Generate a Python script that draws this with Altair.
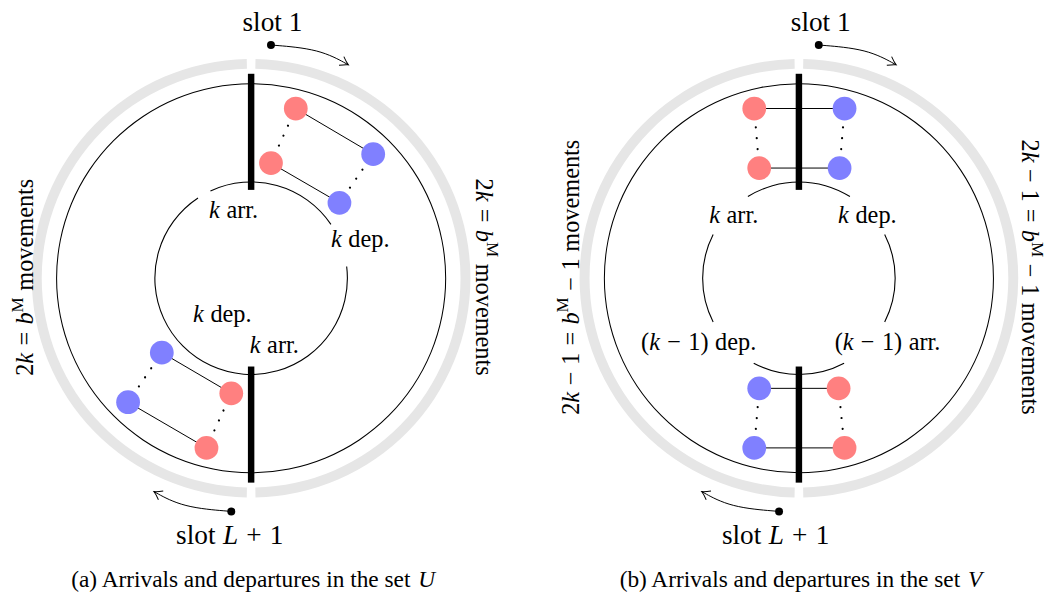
import math
import altair as alt
import pandas as pd

# ---------------- diagram data ----------------
PANEL_CX = [253, 805]          # centre x of panel (a) and (b)
PANEL_CY = 278                 # common centre y
GREY_RING = (211, 221)         # inner / outer radius of grey ring
GREY_HALF_GAP = 0.02           # rad
TRACK_R = 196                  # black circle radius
INNER_R = 97                   # inner circle radius
BAR_R = (89, 206)              # radial extent of the thick black bars

# inner circle pieces that are drawn (degrees clockwise from 12 o'clock)
INNER_ARCS = {
    0: [(335, 416), (83, 326.5)],
    1: [(328, 392), (63, 117), (152, 208), (243, 297)],
}

# vehicles (nodes)
NODE_ID = ["a1", "a2", "a3", "a4", "a5", "a6", "a7", "a8",
           "b1", "b2", "b3", "b4", "b5", "b6", "b7", "b8"]
NODE_X = [298, 273, 376, 342, 163, 129, 233, 208,
          760, 765, 851, 846, 765, 760, 845, 851]
NODE_Y = [107, 162, 153, 202, 353, 403, 394, 449,
          107, 167, 107, 167, 389, 449, 389, 449]
NODE_KIND = ["arr", "arr", "dep", "dep", "dep", "dep", "arr", "arr",
             "arr", "arr", "dep", "dep", "dep", "dep", "arr", "arr"]

SOLID_LINKS = [("a1", "a3"), ("a2", "a4"), ("a5", "a7"), ("a6", "a8"),
               ("b1", "b3"), ("b2", "b4"), ("b5", "b7"), ("b6", "b8")]
DOTTED_LINKS = [("a1", "a2"), ("a3", "a4"), ("a5", "a6"), ("a7", "a8"),
                ("b1", "b2"), ("b3", "b4"), ("b5", "b6"), ("b7", "b8")]

# curved arrows (start, control, tip), left panel; right panel shifted by panel offset
ARROW_TOP_X = [273, 322, 351]
ARROW_TOP_Y = [43, 47, 63]
ARROW_BOT_X = [233, 184, 155]
ARROW_BOT_Y = [513, 509, 493]
ARROW_HEAD_ANGLE = [29, 209]

# ---------------- text ----------------
ROMAN_W = {' ': 250, '(': 333, ')': 333, '.': 250, '1': 500, '2': 500,
           '=': 564, '+': 564, '\u2212': 564, 'a': 444, 'b': 500, 'c': 444,
           'd': 500, 'e': 444, 'h': 500, 'i': 278, 'l': 278, 'm': 778,
           'n': 500, 'o': 500, 'p': 500, 'r': 333, 's': 389, 't': 278,
           'u': 500, 'v': 500, 'A': 722, 'L': 611, 'M': 889, 'U': 722, 'V': 722}
ITALIC_W = {'k': 444, 'b': 500, 'L': 556, 'U': 722, 'V': 611}

MINUS = "\u2212"
WS = (0.27, "G")   # word space
K_ARR = [("k", "I"), WS, ("arr.", "R")]
K_DEP = [("k", "I"), WS, ("dep.", "R")]
K1_DEP = [("(", "R"), ("k", "I"), (0.3, "G"), (MINUS, "R"), (0.3, "G"), ("1)", "R"), WS, ("dep.", "R")]
K1_ARR = [("(", "R"), ("k", "I"), (0.3, "G"), (MINUS, "R"), (0.3, "G"), ("1)", "R"), WS, ("arr.", "R")]
MOVES_A = [("2", "R"), ("k", "I"), (0.3, "G"), ("=", "R"), (0.3, "G"), ("b", "I"),
           ("M", "S"), WS, ("movements", "R")]
MOVES_B = [("2", "R"), ("k", "I"), (0.27, "G"), (MINUS, "R"), (0.27, "G"), ("1", "R"),
           (0.3, "G"), ("=", "R"), (0.3, "G"), ("b", "I"), ("M", "S"), (0.27, "G"),
           (MINUS, "R"), (0.27, "G"), ("1", "R"), WS, ("movements", "R")]
SLOT_1 = [("slot 1", "R")]
SLOT_L = [("slot", "R"), WS, ("L", "I"), (0.3, "G"), ("+", "R"), (0.3, "G"), ("1", "R")]
CAPTION_A = [("(a) Arrivals and departures in the set", "R"), WS, ("U", "I")]
CAPTION_B = [("(b) Arrivals and departures in the set", "R"), WS, ("V", "I")]

# (parts, centre along text, baseline position, font size, angle)
LABELS = [
    (SLOT_1, 274.5, 29, 27.5, 0), (SLOT_L, 231.5, 546, 27.5, 0),
    (SLOT_1, 827, 29, 27.5, 0), (SLOT_L, 781.5, 546, 27.5, 0),
    (K_ARR, 236, 217, 24.5, 0), (K_DEP, 363, 247, 24.5, 0),
    (K_DEP, 224, 322, 24.5, 0), (K_ARR, 277, 353, 24.5, 0),
    (K_ARR, 740, 222, 24.5, 0), (K_DEP, 874, 222, 24.5, 0),
    (K1_DEP, 704, 350, 24.5, 0), (K1_ARR, 895, 350, 24.5, 0),
    (MOVES_A, 277, 33, 24.5, 270), (MOVES_A, 277, 480, 24.5, 90),
    (MOVES_B, 277, 583, 24.5, 270), (MOVES_B, 277, 1030, 24.5, 90),
    (CAPTION_A, 255, 589, 23.5, 0), (CAPTION_B, 807, 589, 23.5, 0),
]


def part_width(text, style):
    if style == "G":
        return text
    if style == "I":
        return sum(ITALIC_W.get(c, 500) for c in text) / 1000
    if style == "S":
        return 0.7 * sum(ROMAN_W.get(c, 500) for c in text) / 1000
    return sum(ROMAN_W.get(c, 500) for c in text) / 1000


def layout(parts, centre, base, size, angle):
    if angle == 0:
        adv, up = (1, 0), (0, -1)
    elif angle == 270:
        adv, up = (0, -1), (-1, 0)
    else:
        adv, up = (0, 1), (1, 0)
    total = sum(part_width(t, s) for t, s in parts) * size
    if angle == 0:
        ox, oy = centre - total / 2, base
    elif angle == 270:
        ox, oy = base, centre + total / 2
    else:
        ox, oy = base, centre - total / 2
    rows = []
    pos = 0.0
    for t, s in parts:
        w = part_width(t, s) * size
        if s != "G":
            rise = 0.42 * size if s == "S" else 0.0
            fs = size * 0.7 if s == "S" else size
            rows.append(dict(text=t, style="italic" if s == "I" else "normal",
                             x=ox + adv[0] * pos + up[0] * rise,
                             y=oy + adv[1] * pos + up[1] * rise,
                             fs=fs, angle=angle))
        pos += w
    return rows


text_rows = []
for lab in LABELS:
    text_rows += layout(*lab)
text_df = pd.DataFrame(text_rows)

# ---------------- tables ----------------
arc_rows = []
for p, cx in enumerate(PANEL_CX):
    g = GREY_HALF_GAP
    arc_rows.append(dict(x=cx, y=PANEL_CY, t1=g, t2=math.pi - g,
                         r1=GREY_RING[1], r2=GREY_RING[0], col="#e6e6e6"))
    arc_rows.append(dict(x=cx, y=PANEL_CY, t1=math.pi + g, t2=2 * math.pi - g,
                         r1=GREY_RING[1], r2=GREY_RING[0], col="#e6e6e6"))
    arc_rows.append(dict(x=cx, y=PANEL_CY, t1=0, t2=2 * math.pi,
                         r1=TRACK_R + 0.55, r2=TRACK_R - 0.55, col="#000000"))
    for a1, a2 in INNER_ARCS[p]:
        arc_rows.append(dict(x=cx, y=PANEL_CY, t1=math.radians(a1), t2=math.radians(a2),
                             r1=INNER_R + 0.55, r2=INNER_R - 0.55, col="#000000"))
arc_df = pd.DataFrame(arc_rows)

nodes = pd.DataFrame(dict(id=NODE_ID, x=NODE_X, y=NODE_Y, kind=NODE_KIND))
pos = {i: (x, y) for i, x, y in zip(NODE_ID, NODE_X, NODE_Y)}
solid_df = pd.DataFrame([dict(x=pos[a][0], y=pos[a][1], x2=pos[b][0], y2=pos[b][1])
                         for a, b in SOLID_LINKS])
dotted_df = pd.DataFrame([dict(x=pos[a][0], y=pos[a][1], x2=pos[b][0], y2=pos[b][1])
                          for a, b in DOTTED_LINKS])

bar_rows = []
for cx in PANEL_CX:
    bar_rows.append(dict(x=cx, y=PANEL_CY - BAR_R[1], y2=PANEL_CY - BAR_R[0]))
    bar_rows.append(dict(x=cx, y=PANEL_CY + BAR_R[0], y2=PANEL_CY + BAR_R[1]))
bar_df = pd.DataFrame(bar_rows)

arrow_rows, head_rows, dot_rows = [], [], []
for p, cx in enumerate(PANEL_CX):
    off = cx - PANEL_CX[0]
    for k, (xs, ys) in enumerate([(ARROW_TOP_X, ARROW_TOP_Y), (ARROW_BOT_X, ARROW_BOT_Y)]):
        aid = f"{p}-{k}"
        for i, (xx, yy) in enumerate(zip(xs, ys)):
            arrow_rows.append(dict(arrow=aid, i=i, x=xx + off, y=yy))
        head_rows.append(dict(x=xs[-1] + off, y=ys[-1], ang=ARROW_HEAD_ANGLE[k]))
        dot_rows.append(dict(x=xs[0] + off, y=ys[0]))
arrow_df = pd.DataFrame(arrow_rows)
head_df = pd.DataFrame(head_rows)
dot_df = pd.DataFrame(dot_rows)

# ---------------- chart ----------------
X = alt.X("x:Q", scale=alt.Scale(domain=[8, 1055], nice=False, zero=False), axis=None)
Y = alt.Y("y:Q", scale=alt.Scale(domain=[8, 601], nice=False, zero=False, reverse=True), axis=None)

arcs = alt.Chart(arc_df).mark_arc(strokeWidth=0).encode(
    x=X, y=Y,
    theta=alt.Theta("t1:Q", scale=None, stack=None), theta2=alt.Theta2("t2:Q"),
    radius=alt.Radius("r1:Q", scale=None), radius2=alt.Radius2("r2:Q"),
    color=alt.Color("col:N", scale=None),
)

solid = alt.Chart(solid_df).mark_rule(color="black", strokeWidth=1).encode(
    x=X, y=Y, x2=alt.X2("x2:Q"), y2=alt.Y2("y2:Q"))

dotted = alt.Chart(dotted_df).mark_rule(
    color="black", strokeWidth=2.2, strokeCap="round",
    strokeDash=[0.01, 11], strokeDashOffset=3).encode(
    x=X, y=Y, x2=alt.X2("x2:Q"), y2=alt.Y2("y2:Q"))

bars = alt.Chart(bar_df).mark_rule(color="black", strokeWidth=6.5, strokeCap="butt").encode(
    x=X, y=Y, y2=alt.Y2("y2:Q"))

node_layer = alt.Chart(nodes).mark_circle(size=573, opacity=1).encode(
    x=X, y=Y,
    color=alt.Color("kind:N", scale=alt.Scale(domain=["arr", "dep"],
                                              range=["#ff8080", "#8080ff"]), legend=None))

arrows = alt.Chart(arrow_df).mark_line(color="black", strokeWidth=1, interpolate="basis").encode(
    x=X, y=Y, detail="arrow:N", order=alt.Order("i:Q"))

heads = alt.Chart(head_df).mark_point(
    shape="M -1.6 -1 Q -0.6 -0.25 0 0 Q -0.6 0.25 -1.6 1",
    filled=False, color="black", strokeWidth=1, size=100, opacity=1).encode(
    x=X, y=Y, angle=alt.Angle("ang:Q", scale=None))

dots = alt.Chart(dot_df).mark_circle(size=64, color="black", opacity=1).encode(x=X, y=Y)


def text_layer(style):
    return alt.Chart(text_df).transform_filter(
        alt.datum.style == style
    ).mark_text(font="Liberation Serif", fontStyle=style, align="left",
                baseline="alphabetic", color="black").encode(
        x=X, y=Y, text="text:N",
        angle=alt.Angle("angle:Q", scale=None),
        size=alt.Size("fs:Q", scale=None))


chart = alt.layer(
    arcs, solid, dotted, bars, node_layer, arrows, heads, dots,
    text_layer("normal"), text_layer("italic"),
).properties(width=1047, height=593, padding=0, autosize="none").configure_view(stroke=None)

chart.save("out.html", embed_options={"renderer": "svg", "actions": False})
